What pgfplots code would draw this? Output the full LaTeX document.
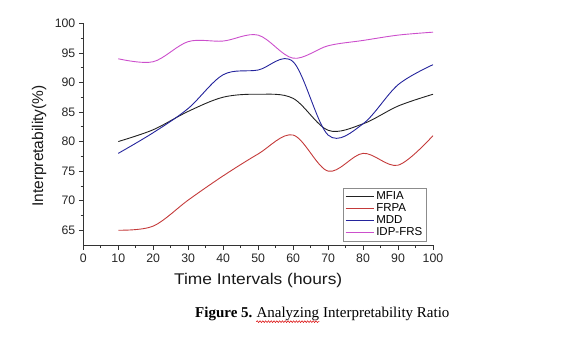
\documentclass[border=0pt]{standalone}
\usepackage{fontspec}
\setmainfont{Liberation Sans}
\newfontfamily\capserif{Liberation Serif}
\newfontfamily\widesans[FakeStretch=1.12]{Liberation Sans}
\usepackage{pgfplots}
\pgfplotsset{compat=1.18}
\usetikzlibrary{decorations.pathmorphing}
\definecolor{cMFIA}{HTML}{222222}
\definecolor{cFRPA}{HTML}{C43A3A}
\definecolor{cMDD}{HTML}{24249C}
\definecolor{cIDP}{HTML}{CC4FCC}
\begin{document}
\begin{tikzpicture}
\path[use as bounding box] (0,0) rectangle (562bp,347bp);
\begin{axis}[
  at={(83.3bp,102bp)}, anchor=south west,
  scale only axis, width=349.7bp, height=221.7bp,
  xmin=0, xmax=100, ymin=62.5, ymax=100,
  axis x line*=bottom, axis y line*=left,
  axis line style={-, line width=0.7pt, black!80},
  xtick={0,10,...,100}, ytick={65,70,...,100},
  minor x tick num=1, minor y tick num=1,
  tick align=outside,
  major tick length=4.5bp, minor tick length=2.8bp,
  tick style={line width=0.7pt, black!80},
  /pgf/number format/assume math mode=true,
  ticklabel style={font=\fontsize{12.3bp}{14bp}\selectfont, black!85},
  xticklabel style={yshift=-1bp},
  xlabel={Time Intervals (hours)},
  ylabel={Interpretability(\%)},
  xlabel style={at={(axis description cs:0.5,-0.176)}, anchor=base, font=\widesans\fontsize{15.5bp}{18bp}\selectfont, black!90},
  ylabel style={at={(axis description cs:-0.126,0.4465)}, anchor=center, font=\fontsize{15.5bp}{18bp}\selectfont, black!90},
  legend cell align=left,
  legend style={at={(axis description cs:0.98,0.018)}, anchor=south east,
    font=\fontsize{11.5bp}{12bp}\selectfont, draw=black!45, line width=0.5pt,
    inner sep=1.5bp, row sep=-1.4bp},
  legend image code/.code={\draw[#1, line width=1.4pt] (0bp,0bp) -- (28bp,0bp);},
  every axis plot/.append style={smooth, tension=0.55, line width=0.9pt, no markers},
]
\addplot[cMFIA] coordinates {(10,80) (20,82) (30,85.1) (40,87.5) (50,88) (60,87.3) (70,81.9) (80,83) (90,86) (100,88)};
\addlegendentry{MFIA}
\addplot[cFRPA] coordinates {(10,65) (20,65.7) (30,70.1) (40,74.2) (50,77.9) (60,81.1) (70,75) (80,78) (90,76) (100,81)};
\addlegendentry{FRPA}
\addplot[cMDD] coordinates {(10,78) (20,81.5) (30,85.6) (40,91.3) (50,92.1) (60,93.5) (70,81.1) (80,83) (90,89.6) (100,93)};
\addlegendentry{MDD}
\addplot[cIDP] coordinates {(10,94) (20,93.5) (30,96.9) (40,97) (50,98) (60,94.1) (70,96.2) (80,97.1) (90,98) (100,98.5)};
\addlegendentry{IDP-FRS}
\end{axis}
\begin{scope}[every node/.style={inner sep=0pt, font=\capserif\fontsize{15bp}{17bp}\selectfont}]
\node[anchor=base west] (a) at (195bp,30bp) {\bfseries Figure 5.};
\node[anchor=base west] (b) at ([xshift=3.75bp]a.base east) {Analyzing};
\node[anchor=base west] (c) at ([xshift=3.75bp]b.base east) {Interpretability Ratio};
\draw[red!85!black, line width=0.5pt, decorate, decoration={snake, amplitude=0.9bp, segment length=2.8bp}] ([yshift=-1.2bp]b.base west |- b.south) -- ([yshift=-1.2bp]b.south east);
\end{scope}
\end{tikzpicture}
\end{document}
